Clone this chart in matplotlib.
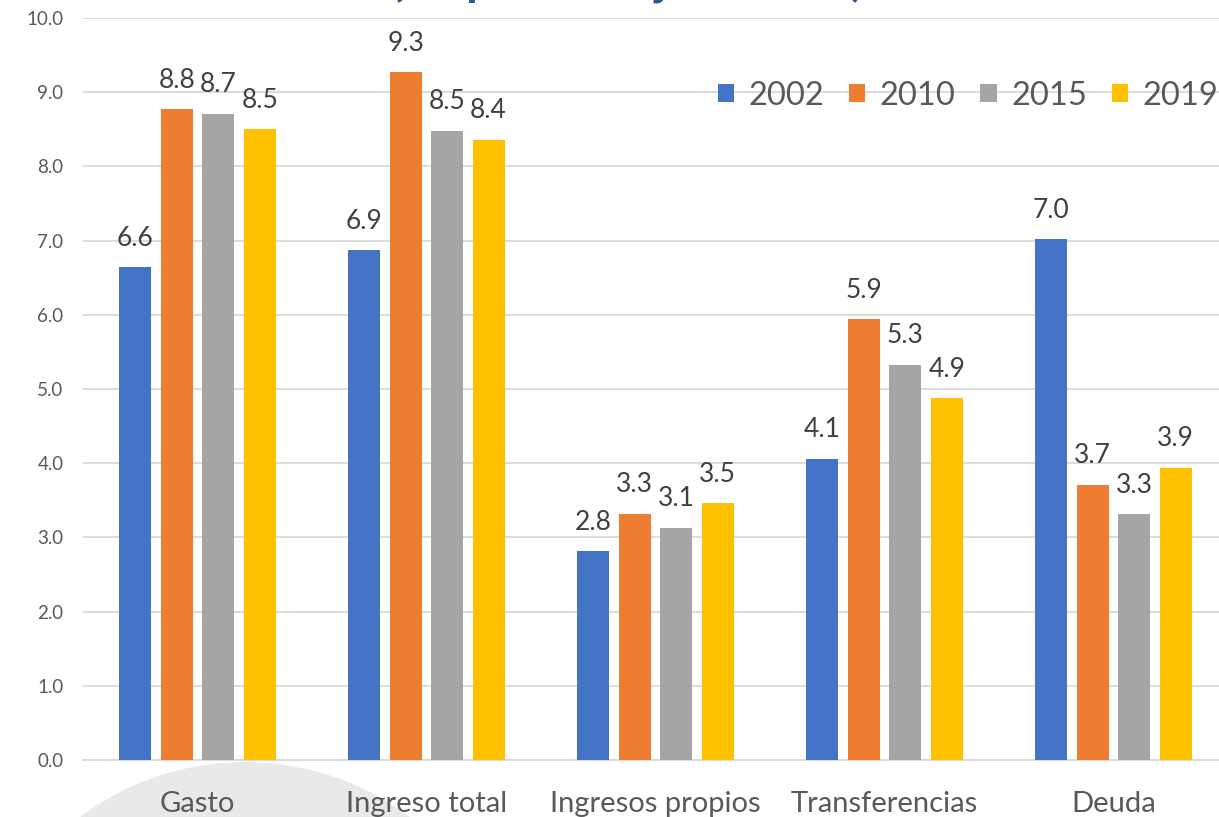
import numpy as np
import matplotlib
matplotlib.use("Agg")
import matplotlib.pyplot as plt
from matplotlib.patches import Circle

# data
categories = ["Gasto", "Ingreso total", "Ingresos propios", "Transferencias", "Deuda"]
years = ["2002", "2010", "2015", "2019"]
v2002 = [6.64, 6.87, 2.81, 4.06, 7.02]
v2010 = [8.77, 9.27, 3.32, 5.94, 3.71]
v2015 = [8.71, 8.48, 3.13, 5.33, 3.31]
v2019 = [8.50, 8.36, 3.46, 4.88, 3.94]
yticks = np.arange(0, 10.01, 1.0)

colors = ["#4472C4", "#ED7D31", "#A5A5A5", "#FFC000"]
txt = "#595959"
plt.rcParams['font.family'] = ['Lato', 'DejaVu Sans']

W, H = 1219, 817
fig = plt.figure(figsize=(W / 100, H / 100), dpi=100)

# big light grey disc in the lower left corner (background decoration)
bg = fig.add_axes([0, 0, 1, 1], zorder=0)
bg.set_xlim(0, W)
bg.set_ylim(H, 0)
bg.axis('off')
bg.add_patch(Circle((245, 1037), 275, color="#E9E9E9", lw=0))

ax = fig.add_axes([83 / W, (H - 760) / H, (1228 - 83) / W, (760 - 18) / H], zorder=1)
ax.patch.set_alpha(0)

x = np.arange(len(categories))
width = 0.14
step = 0.181
series = [v2002, v2010, v2015, v2019]
for i, vals in enumerate(series):
    pos = x + (i - 1.5) * step
    bars = ax.bar(pos, vals, width, color=colors[i], label=years[i], zorder=3)
    for b, v in zip(bars, vals):
        ax.text(b.get_x() + b.get_width() / 2, v + 0.22, "%.1f" % v,
                ha='center', va='bottom', fontsize=19, color="#404040")

ax.set_xlim(-0.5, len(categories) - 0.5)
ax.set_ylim(0, 10)
ax.set_yticks(yticks)
ax.set_yticklabels(["%.1f" % t for t in yticks], fontsize=13.5, color=txt)
ax.set_xticks(x)
ax.set_xticklabels(categories, fontsize=21, color=txt)
ax.tick_params(axis='both', length=0)
ax.tick_params(axis='x', pad=22)
ax.tick_params(axis='y', pad=14)
ax.yaxis.grid(True, color="#D9D9D9", lw=1.3, zorder=0)
for s in ["top", "right", "left"]:
    ax.spines[s].set_visible(False)
ax.spines["bottom"].set_color("#D9D9D9")
ax.spines["bottom"].set_linewidth(1.3)

leg = ax.legend(ncol=4, loc='upper right', bbox_to_anchor=(1.003, 0.933), frameon=False,
                fontsize=23.5, handlelength=0.5, handleheight=0.5, handletextpad=0.45,
                columnspacing=0.75, labelcolor=txt, borderaxespad=0.0)

# title is clipped by the top edge of the image, only the descenders show
fig.text(630 / W, 1 + 5 / H, "(en porcentaje del PIB)", ha='center', va='baseline',
         fontsize=36, fontweight='bold', style='italic', color="#2F5597")

fig.savefig("out.png", dpi=100)
